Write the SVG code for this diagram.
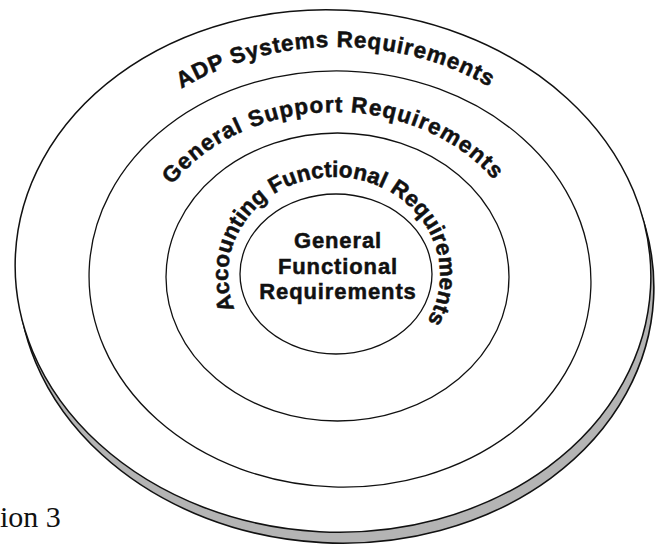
<svg xmlns="http://www.w3.org/2000/svg" width="657" height="555" viewBox="0 0 657 555">
<style>
.ring{fill:none;stroke:#111;stroke-width:1.3}
.arc{font-family:"Liberation Sans",Arial,sans-serif;font-weight:bold;fill:#111;stroke:#111;stroke-width:0.5}
.ctr{font-family:"Liberation Sans",Arial,sans-serif;font-weight:bold;font-size:22px;letter-spacing:0.9px;fill:#111;stroke:#111;stroke-width:0.5;text-anchor:middle}
.cap{font-family:"Liberation Serif","Times New Roman",serif;font-size:30px;fill:#111}
</style>
<defs>
<path id="p1" d="M337,497 A268,225 0 0 1 337,47 A268,225 0 0 1 337,497"/>
<path id="p2" d="M335,444 A197,166 0 0 1 335,112 A197,166 0 0 1 335,444"/>
<path id="p3" d="M334,373 A106,98 0 0 1 334,177 A106,98 0 0 1 334,373"/>
</defs>
<rect width="657" height="555" fill="#fff"/>
<g id="adp-systems">
<ellipse cx="336" cy="282" rx="318" ry="261" transform="rotate(3 336 282)" fill="#b4b4b4" stroke="#111" stroke-width="1.6"/>
<ellipse cx="333" cy="271" rx="318" ry="261" transform="rotate(3 333 271)" fill="#fff" stroke="#111" stroke-width="1.5"/>
<text class="arc" font-size="22.5" letter-spacing="0.85"><textPath href="#p1" startOffset="774" text-anchor="middle">ADP Systems Requirements</textPath></text>
</g>
<g id="general-support">
<ellipse class="ring" cx="340" cy="279" rx="251" ry="208" transform="rotate(2 340 279)"/>
<text class="arc" font-size="22.5" letter-spacing="1.1"><textPath href="#p2" startOffset="568" text-anchor="middle">General Support Requirements</textPath></text>
</g>
<g id="accounting-functional">
<ellipse class="ring" cx="337.5" cy="277" rx="171.5" ry="144"/>
<text class="arc" font-size="22.5" letter-spacing="0.1"><textPath href="#p3" startOffset="327" text-anchor="middle">Accounting Functional Requirements</textPath></text>
</g>
<g id="general-functional">
<ellipse class="ring" cx="336" cy="274" rx="96" ry="80"/>
<text class="ctr" x="338" y="248">General</text>
<text class="ctr" x="338" y="273.5">Functional</text>
<text class="ctr" x="338" y="299">Requirements</text>
</g>
<text class="cap" x="0" y="527">ion 3</text>
</svg>
